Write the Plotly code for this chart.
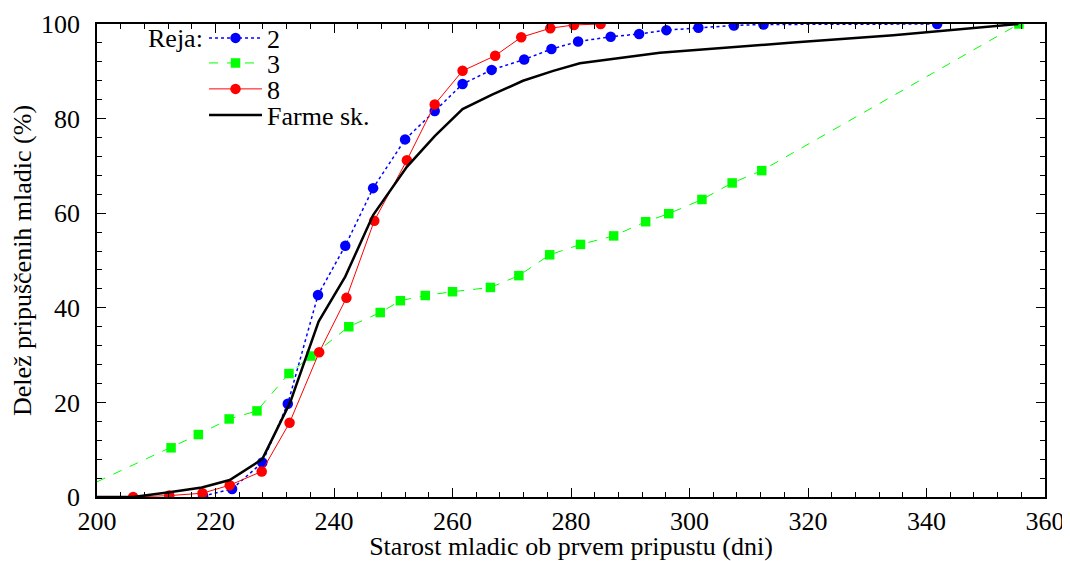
import plotly.graph_objects as go

# Reja 2
x2 = [217.9, 222.8, 227.9, 232.2, 237.3, 241.9, 246.6, 252.0, 257.0, 261.7, 266.6, 272.1,
      276.7, 281.2, 286.7, 291.5, 296.1, 301.5, 307.5, 312.5, 341.8]
y2 = [0.2, 1.7, 7.3, 19.7, 42.7, 53.1, 65.3, 75.6, 81.6, 87.3, 90.3, 92.5,
      94.7, 96.3, 97.3, 97.9, 98.7, 99.2, 99.7, 99.9, 100.0]

# Reja 3
x3 = [194.5, 212.5, 217.1, 222.3, 227.0, 232.4, 236.1, 242.5, 247.8, 251.2, 255.4, 260.0,
      266.4, 271.2, 276.4, 281.6, 287.2, 292.6, 296.5, 302.1, 307.2, 312.2, 355.6]
y3 = [0.0, 10.4, 13.2, 16.5, 18.2, 26.1, 29.8, 36.0, 39.0, 41.5, 42.6, 43.4,
      44.3, 46.8, 51.2, 53.4, 55.2, 58.2, 59.9, 62.9, 66.4, 69.0, 100.0]

# Reja 8
x8 = [206.1, 212.2, 217.8, 222.4, 227.8, 232.5, 237.5, 242.1, 246.8, 252.3, 257.0, 261.7,
      267.2, 271.6, 276.5, 280.5, 285.0]
y8 = [0.0, 0.3, 0.8, 2.5, 5.4, 15.7, 30.6, 42.1, 58.4, 71.2, 83.0, 90.1,
      93.3, 97.2, 99.1, 99.8, 100.0]

# Farme sk.
xf = [200.0, 206.1, 212.2, 217.7, 222.4, 227.9, 232.6, 237.4, 241.9, 246.6, 252.3, 257.0,
      261.7, 266.6, 271.9, 277.0, 281.5, 295.0, 317.5, 334.4, 355.5]
yf = [0.0, 0.0, 1.0, 2.0, 3.6, 8.0, 20.0, 37.1, 46.6, 59.6, 69.8, 76.3,
      82.0, 85.0, 88.0, 90.1, 91.7, 93.9, 96.1, 97.6, 100.0]

x_ticks = [200, 220, 240, 260, 280, 300, 320, 340, 360]
y_ticks = [0, 20, 40, 60, 80, 100]

FONT = "Liberation Serif, Times New Roman, serif"
FS = 26

fig = go.Figure()
fig.add_trace(go.Scatter(x=x2, y=y2, name="2", mode="lines+markers", legend="legend",
                         line=dict(color="#0000ff", width=1.5, dash="dot"),
                         marker=dict(symbol="circle", size=10.5, color="#0000ff")))
fig.add_trace(go.Scatter(x=x3, y=y3, name="3", mode="lines+markers", legend="legend2",
                         line=dict(color="#00ff00", width=1, dash="dash"),
                         marker=dict(symbol="square", size=9.5, color="#00ff00")))
fig.add_trace(go.Scatter(x=x8, y=y8, name="8", mode="lines+markers", legend="legend3",
                         line=dict(color="#ff0000", width=1),
                         marker=dict(symbol="circle", size=10.5, color="#ff0000")))
fig.add_trace(go.Scatter(x=xf, y=yf, name="Farme sk.", mode="lines", legend="legend4",
                         line=dict(color="#000000", width=2.5)))

axis_common = dict(showgrid=False, zeroline=False, showline=True, linecolor="black",
                   linewidth=1.5, mirror="allticks", ticks="inside", ticklen=9,
                   tickwidth=1.2, tickcolor="black", automargin=False,
                   tickfont=dict(family=FONT, size=FS, color="black"))

fig.update_xaxes(range=[200, 360], tickvals=x_ticks,
                 minor=dict(dtick=4, ticks="inside", ticklen=5, tickwidth=1, tickcolor="black"),
                 title=dict(text="Starost mladic ob prvem pripustu (dni)",
                            font=dict(family=FONT, size=FS, color="black"), standoff=0),
                 **axis_common)
fig.update_yaxes(range=[0, 100], tickvals=y_ticks, ticklabelstandoff=10,
                 minor=dict(dtick=4, ticks="inside", ticklen=5, tickwidth=1, tickcolor="black"),
                 title=dict(text="Delež pripuščenih mladic (%)",
                            font=dict(family=FONT, size=FS, color="black"), standoff=4),
                 **axis_common)

def leg(ypos):
    return dict(x=0.1129, y=ypos, xanchor="left", yanchor="middle",
                bgcolor="rgba(0,0,0,0)", tracegroupgap=0, itemwidth=53,
                font=dict(family=FONT, size=FS, color="black"))

fig.update_layout(
    width=1062, height=553,
    margin=dict(l=89, r=25, t=16, b=64, autoexpand=False),
    plot_bgcolor="white", paper_bgcolor="white",
    font=dict(family=FONT, size=FS, color="black"),
    showlegend=True,
    legend=leg(0.9704), legend2=leg(0.9175), legend3=leg(0.8626), legend4=leg(0.8076),
    annotations=[dict(text="Reja:", x=0.0517, y=0.9704, xref="paper", yref="paper",
                      xanchor="left", yanchor="middle", showarrow=False,
                      font=dict(family=FONT, size=FS, color="black"))],
)

fig.write_html("out.html")
